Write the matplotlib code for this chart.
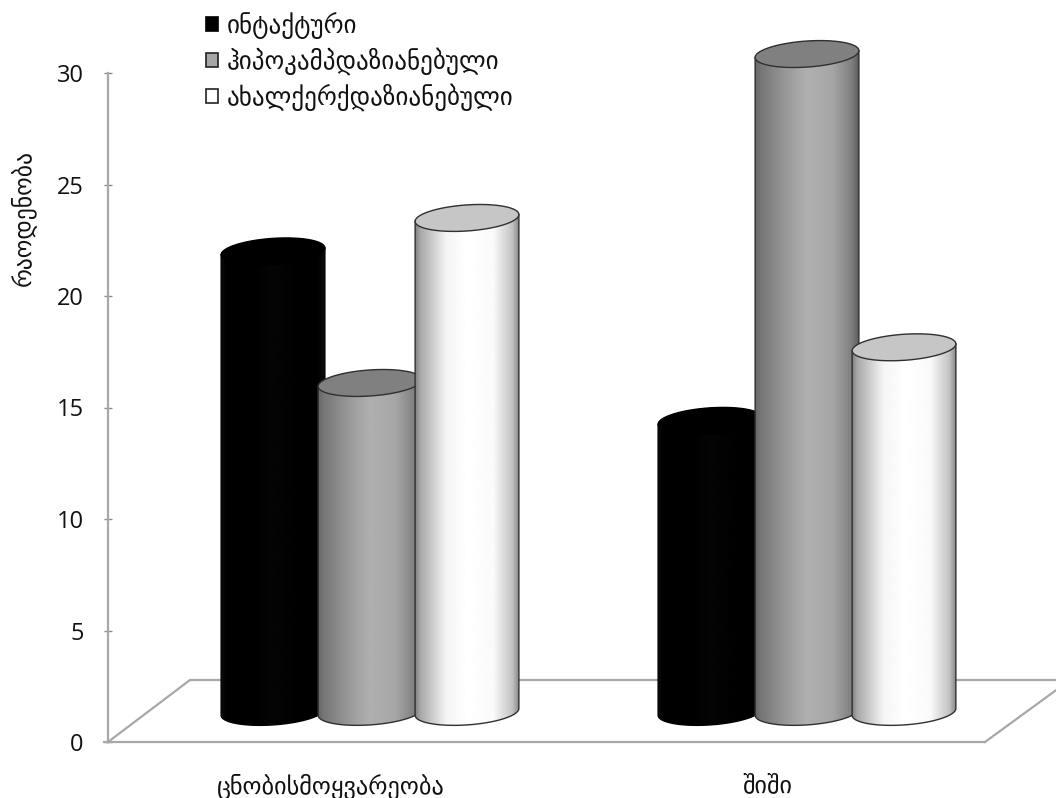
import numpy as np
import matplotlib
matplotlib.use("Agg")
import matplotlib.pyplot as plt
from matplotlib.patches import Patch, PathPatch, Polygon
from matplotlib.path import Path

# ---- data ----
categories = ["ცნობისმოყვარეობა", "შიში"]
series_names = ["ინტაქტური", "ჰიპოკამპდაზიანებული", "ახალქერქდაზიანებული"]
intact = [22.0, 14.4]
hippocampus = [16.1, 30.85]
neocortex = [23.5, 17.7]
y_ticks = [0, 5, 10, 15, 20, 25, 30]
y_title = "რაოდენობა"
base_level = 1.35

# ---- layout (pixels -> data scale) ----
W, H = 1056, 798
PX_PER_CAT = 437.0
PX_PER_UNIT = 22.3
X0_PX, Y0_PX = 370.0, 742.0
def xd(px): return (px - X0_PX) / PX_PER_CAT
def yd(py): return (Y0_PX - py) / PX_PER_UNIT

plt.rcParams["font.family"] = ["Open Sans", "DejaVu Sans"]
fig = plt.figure(figsize=(W / 100, H / 100), dpi=100, facecolor="white")
ax = fig.add_axes([0, 0, 1, 1])

# ---- axes ----
axis_col = "#a8a8a8"
for s in ("top", "right"):
    ax.spines[s].set_visible(False)
ax.spines["left"].set_position(("data", xd(108)))
ax.spines["left"].set_bounds(0, 30)
ax.spines["bottom"].set_position(("data", 0))
ax.spines["bottom"].set_bounds(xd(104), xd(985))
for s in ("left", "bottom"):
    ax.spines[s].set_color(axis_col)
    ax.spines[s].set_linewidth(1.6)
ax.set_yticks(y_ticks)
ax.tick_params(axis="y", direction="inout", length=6, width=1, color="#8c8c8c",
               labelsize=17, pad=14.5, labelcolor="#111111")
LABEL_SHIFT = -39.5 / PX_PER_CAT
ax.set_xticks(np.arange(len(categories)) + LABEL_SHIFT)
ax.set_xticklabels(categories, family="DejaVu Sans", fontsize=17.5, color="#111111")
ax.tick_params(axis="x", length=0, pad=0)
for lab in ax.get_xticklabels():
    lab.set_y(yd(773))
    lab.set_va("top")

ax.set_ylabel(y_title, family="DejaVu Sans", fontsize=17, color="#111111")
ax.yaxis.set_label_coords(36 / W, 1 - 218 / H, transform=ax.transAxes)

# floor of the pseudo-3D plot
floor = [(xd(108), 0), (xd(190), yd(680)), (xd(1070), yd(680)), (xd(985), 0)]
ax.plot(*zip(*floor), color=axis_col, lw=1.6, zorder=1)

# ---- cylinders ----
A, B, TILT = 52.0, 13.0, np.radians(4.0)
T0 = np.arctan2(B * np.sin(TILT), A * np.cos(TILT))

def ell(cx, cy, t):
    dx = A * np.cos(t) * np.cos(TILT) + B * np.sin(t) * np.sin(TILT)
    dy = A * np.cos(t) * np.sin(TILT) - B * np.sin(t) * np.cos(TILT)
    return cx + dx / PX_PER_CAT, cy + dy / PX_PER_UNIT

GRAD_X = [0, .05, .3, .5, .75, .93, 1]
styles = [
    dict(grad=[.05, .0, .0, .02, .0, .0, .05], cap="#000000", edge="#000000"),
    dict(grad=[.40, .46, .60, .69, .65, .50, .36], cap="#808080", edge="#303030"),
    dict(grad=[.50, .66, .96, 1, .98, .76, .50], cap="#c6c6c6", edge="#303030"),
]
offsets = [-97 / PX_PER_CAT, 0, 97 / PX_PER_CAT]
series = [intact, hippocampus, neocortex]
xpos = np.linspace(0, 1, 256)

z = 3
for gi in range(len(categories)):
    for si, vals in enumerate(series):
        cx = gi + offsets[si]
        top = vals[gi]
        st = styles[si]
        # silhouette: lower half of the base ellipse plus upper half of the cap
        lx, ly = ell(cx, base_level, np.linspace(np.pi + T0, T0, 60))
        ux, uy = ell(cx, top, np.linspace(T0, -np.pi + T0, 60))
        verts = np.column_stack([np.r_[lx, ux], np.r_[ly, uy]])
        body = PathPatch(Path(np.vstack([verts, verts[0]]), closed=True),
                         fc="none", ec="none", zorder=z)
        ax.add_patch(body)
        col = np.interp(xpos, GRAD_X, st["grad"])[None, :]
        ext = [cx - A / PX_PER_CAT, cx + A / PX_PER_CAT, base_level - 1, top + 1]
        im = ax.imshow(col, cmap="gray", vmin=0, vmax=1, aspect="auto", extent=ext,
                       interpolation="bilinear", zorder=z)
        im.set_clip_path(body)
        ax.plot(np.r_[ux[-1], lx, ux[0]], np.r_[uy[-1], ly, uy[0]],
                color=st["edge"], lw=1.0, zorder=z + .1)
        ex, ey = ell(cx, top, np.linspace(0, 2 * np.pi, 120))
        ax.add_patch(Polygon(np.column_stack([ex, ey]), closed=True, fc=st["cap"],
                             ec=st["edge"], lw=1.0, zorder=z + .2))
        z += 1

ax.set_xlim(xd(0), xd(W))
ax.set_ylim(yd(H), yd(0))

# ---- legend ----
handles = [Patch(fc="#000000", ec="#000000", lw=1.2),
           Patch(fc="#a6a6a6", ec="#222222", lw=1.2),
           Patch(fc="#ffffff", ec="#222222", lw=1.2)]
leg = ax.legend(handles, series_names, loc="upper left", frameon=False,
                bbox_to_anchor=(206 / W, 1 - 12 / H), borderaxespad=0, borderpad=0,
                prop={"family": "DejaVu Sans", "size": 18},
                handlelength=0.46, handleheight=0.46, handletextpad=0.36,
                labelspacing=0.34, labelcolor="#111111")
leg.set_zorder(50)

fig.savefig("out.png", dpi=100)
